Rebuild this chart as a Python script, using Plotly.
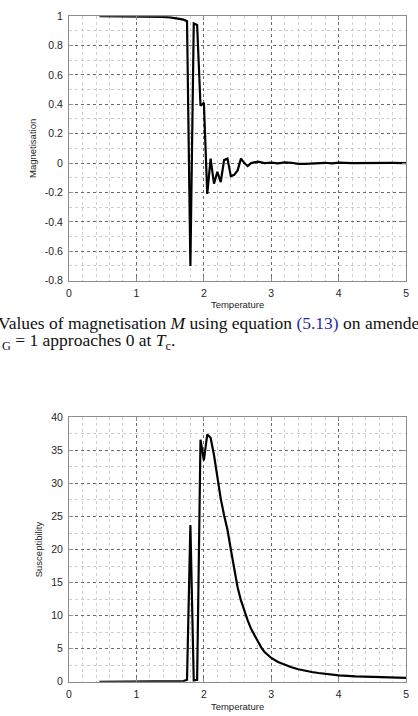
import plotly.graph_objects as go

# ---- data ----
T_mag = [0.45, 0.6, 0.8, 1.0, 1.2, 1.3, 1.4, 1.5, 1.6, 1.65,
         1.7, 1.75, 1.80, 1.85, 1.90, 1.95, 2.00, 2.05, 2.10, 2.15,
         2.20, 2.25, 2.30, 2.35, 2.40, 2.45, 2.50, 2.55, 2.60, 2.65,
         2.70, 2.75, 2.80, 2.90, 3.00, 3.10, 3.20, 3.30, 3.40, 3.50,
         3.60, 3.70, 3.80, 3.90, 4.00, 4.20, 4.40, 4.60, 4.80, 5.00]
magnetisation = [1.0, 1.0, 1.0, 1.0, 0.999, 0.997, 0.995, 0.992, 0.986, 0.982,
                 0.976, 0.966, -0.70, 0.95, 0.94, 0.39, 0.41, -0.21, 0.03, -0.14,
                 -0.06, -0.13, 0.02, 0.03, -0.09, -0.08, -0.05, 0.03, 0.0, -0.02,
                 0.0, 0.005, 0.01, 0.0, 0.003, -0.002, 0.004, 0.002, -0.006, -0.005,
                 -0.003, 0.004, 0.002, -0.002, 0.003, 0.0, 0.002, -0.001, 0.001, 0.0]

T_chi = [0.45, 1.0, 1.5, 1.70, 1.75, 1.80, 1.85, 1.90, 1.95, 2.00,
         2.05, 2.10, 2.15, 2.20, 2.25, 2.30, 2.35, 2.40, 2.45, 2.50,
         2.55, 2.60, 2.65, 2.70, 2.75, 2.80, 2.85, 2.90, 2.95, 3.00,
         3.10, 3.20, 3.30, 3.40, 3.50, 3.60, 3.70, 3.80, 3.90, 4.00,
         4.25, 4.50, 4.75, 5.00]
susceptibility = [0, 0, 0, 0.1, 0.3, 23.7, 0.2, 0.3, 36.6, 33.5,
                  37.4, 36.9, 34.3, 31.0, 27.7, 25.2, 23.0, 20.0, 16.9, 14.3,
                  12.3, 10.7, 9.3, 8.0, 7.0, 6.0, 5.2, 4.5, 4.0, 3.6,
                  3.0, 2.55, 2.2, 1.9, 1.67, 1.48, 1.33, 1.2, 1.08, 0.98,
                  0.82, 0.72, 0.64, 0.58]

x_ticks = [0, 1, 2, 3, 4, 5]
x_labels = ["0", "1", "2", "3", "4", "5"]
m_ticks = [-0.8, -0.6, -0.4, -0.2, 0, 0.2, 0.4, 0.6, 0.8, 1]
m_labels = ["-0.8", "-0.6", "-0.4", "-0.2", "0", "0.2", "0.4", "0.6", "0.8", "1"]
c_ticks = [0, 5, 10, 15, 20, 25, 30, 35, 40]
c_labels = ["0", "5", "10", "15", "20", "25", "30", "35", "40"]

W, H = 418, 716
xdom = [67 / W, 409 / W]
top_dom = [1 - 279.3 / H, 1 - 10.3 / H]
bot_dom = [1 - 687.3 / H, 1 - 418.3 / H]

FONT = "Liberation Sans, Arial, sans-serif"
tickfont = dict(family=FONT, size=10.5, color="#262626")
titlefont = dict(family=FONT, size=9.5, color="#262626")

common = dict(
    showline=True, linecolor="#8c8c8c", linewidth=1, mirror="ticks",
    ticks="inside", ticklen=4, tickcolor="#8c8c8c", ticklabelstandoff=3,
    showgrid=True, gridcolor="#6a6a6a", gridwidth=1, griddash="dot",
    zeroline=False, tickfont=tickfont,
)

fig = go.Figure()
fig.add_trace(go.Scatter(x=T_mag, y=magnetisation, mode="lines",
                         line=dict(color="black", width=2.2),
                         xaxis="x", yaxis="y", showlegend=False))
fig.add_trace(go.Scatter(x=T_chi, y=susceptibility, mode="lines",
                         line=dict(color="black", width=2.2),
                         xaxis="x2", yaxis="y2", showlegend=False))

fig.update_layout(
    width=W, height=H,
    margin=dict(l=0, r=0, t=0, b=0),
    paper_bgcolor="white", plot_bgcolor="white",
    xaxis=dict(domain=xdom, anchor="y", range=[0, 5],
               tickvals=x_ticks, ticktext=x_labels,
               minor=dict(dtick=0.2, showgrid=True, gridcolor="#cfcfcf",
                          griddash="dot", ticks=""),
               title=dict(text="Temperature", font=titlefont, standoff=3),
               **common),
    yaxis=dict(domain=top_dom, anchor="x", range=[-0.8, 1],
               tickvals=m_ticks, ticktext=m_labels,
               minor=dict(dtick=0.1, showgrid=True, gridcolor="#cfcfcf",
                          griddash="dot", ticks=""),
               title=dict(text="Magnetisation", font=titlefont, standoff=6),
               **common),
    xaxis2=dict(domain=xdom, anchor="y2", range=[0, 5],
                tickvals=x_ticks, ticktext=x_labels,
                minor=dict(dtick=0.2, showgrid=True, gridcolor="#cfcfcf",
                           griddash="dot", ticks=""),
                title=dict(text="Temperature", font=titlefont, standoff=3),
                **common),
    yaxis2=dict(domain=bot_dom, anchor="x2", range=[0, 40],
                tickvals=c_ticks, ticktext=c_labels,
                minor=dict(dtick=2.5, showgrid=True, gridcolor="#cfcfcf",
                           griddash="dot", ticks=""),
                title=dict(text="Susceptibility", font=titlefont, standoff=6),
                **common),
)

SERIF = "Liberation Serif, Times New Roman, serif"
fig.add_annotation(
    xref="paper", yref="paper", x=-7 / W, y=1 - 322 / H,
    xanchor="left", yanchor="middle", showarrow=False,
    text="Values of magnetisation <i>M</i> using equation "
         "<span style='color:#2a2a9c'>(5.13)</span> on amended",
    font=dict(family=SERIF, size=17.5, color="#111111"),
)
fig.add_annotation(
    xref="paper", yref="paper", x=-3 / W, y=1 - 341 / H,
    xanchor="left", yanchor="middle", showarrow=False,
    text="<sub>G</sub> = 1 approaches 0 at <i>T</i><sub>c</sub>.",
    font=dict(family=SERIF, size=17.5, color="#111111"),
)

fig.write_html("out.html")
